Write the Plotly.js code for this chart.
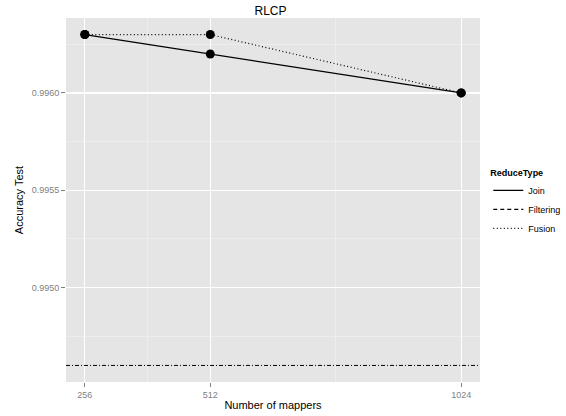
<!DOCTYPE html>
<html>
<head>
<meta charset="utf-8">
<script src="https://cdn.plot.ly/plotly-3.0.1.min.js"></script>
<style>html,body{margin:0;padding:0;background:#fff;}#chart{width:566px;height:416px;}</style>
</head>
<body>
<div id="chart"></div>
<script>
const mappers = [256, 512, 1024];
const joinAcc = [0.9963, 0.9962, 0.9960];
const fusionAcc = [0.9963, 0.9963, 0.9960];
const filteringAcc = [null, null, null];
const baselineAcc = 0.9946;
const xTicks = [256, 512, 1024];
const yTicks = [0.9950, 0.9955, 0.9960];
const yTickLabels = ["0.9950", "0.9955", "0.9960"];

const font = "Liberation Sans, Arial, sans-serif";

const traces = [
  {x: mappers, y: joinAcc, name: "Join", mode: "lines", type: "scatter",
   line: {color: "#000", width: 1.2, dash: "solid"}},
  {x: mappers, y: filteringAcc, name: "Filtering", mode: "lines", type: "scatter",
   line: {color: "#000", width: 1.2, dash: "4px,3px"}},
  {x: mappers, y: fusionAcc, name: "Fusion", mode: "lines", type: "scatter",
   line: {color: "#000", width: 1.2, dash: "1px,2.5px"}},
  {x: mappers, y: joinAcc, mode: "markers", type: "scatter", showlegend: false,
   marker: {color: "#000", size: 9}},
  {x: mappers, y: fusionAcc, mode: "markers", type: "scatter", showlegend: false,
   marker: {color: "#000", size: 9}}
];

const layout = {
  width: 566, height: 416,
  margin: {l: 66, r: 86, t: 18, b: 34, autoexpand: false},
  paper_bgcolor: "#fff",
  plot_bgcolor: "#e5e5e5",
  font: {family: font, color: "#000"},
  title: {text: "RLCP", font: {size: 12, color: "#000"}, x: 0.478, xanchor: "center", y: 0.985, yanchor: "top"},
  xaxis: {
    range: [217.6, 1062.4],
    tickvals: xTicks, ticktext: xTicks.map(String),
    ticks: "outside", ticklen: 4, tickcolor: "#7f7f7f", tickwidth: 1,
    tickfont: {size: 9, color: "#7f7f7f"},
    showgrid: true, gridcolor: "#ffffff", gridwidth: 1.3,
    minor: {tickvals: [384, 768], showgrid: true, gridcolor: "#f2f2f2", gridwidth: 0.6},
    zeroline: false, showline: false,
    title: {text: "Number of mappers", font: {size: 11, color: "#000"}, standoff: 2}
  },
  yaxis: {
    range: [0.994515, 0.996385],
    tickvals: yTicks, ticktext: yTickLabels,
    ticks: "outside", ticklen: 4, tickcolor: "#7f7f7f", tickwidth: 1,
    tickfont: {size: 9, color: "#7f7f7f"},
    showgrid: true, gridcolor: "#ffffff", gridwidth: 1.3,
    minor: {tickvals: [0.99475, 0.99525, 0.99575, 0.99625], showgrid: true, gridcolor: "#f2f2f2", gridwidth: 0.6},
    zeroline: false, showline: false,
    title: {text: "Accuracy Test", font: {size: 11, color: "#000"}, standoff: 5}
  },
  shapes: [
    {type: "line", xref: "paper", x0: 0, x1: 1, yref: "y", y0: baselineAcc, y1: baselineAcc,
     line: {color: "#000", width: 1, dash: "4px,2px,1px,2px"}, layer: "above"}
  ],
  legend: {
    x: 1.02, xanchor: "left", y: 0.49, yanchor: "middle",
    bgcolor: "#fff",
    title: {text: "<b>ReduceType</b>", font: {size: 9, color: "#000"}},
    font: {size: 9, color: "#000"},
    itemwidth: 30, tracegroupgap: 0
  },
  showlegend: true
};

Plotly.newPlot("chart", traces, layout, {displayModeBar: false, staticPlot: true});
</script>
</body>
</html>
